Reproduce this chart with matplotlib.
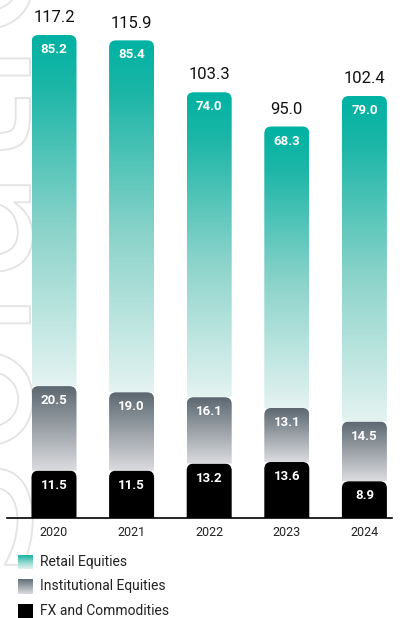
import numpy as np
import matplotlib
matplotlib.use("Agg")
import matplotlib.pyplot as plt
from matplotlib.path import Path
from matplotlib.patches import PathPatch
from matplotlib.colors import LinearSegmentedColormap
from matplotlib.textpath import TextPath
from matplotlib.font_manager import FontProperties
from matplotlib.transforms import Affine2D

plt.rcParams["font.family"] = ["Roboto", "DejaVu Sans"]

years = ["2020", "2021", "2022", "2023", "2024"]
fx_commodities = [11.5, 11.5, 13.2, 13.6, 8.9]
institutional = [20.5, 19.0, 16.1, 13.1, 14.5]
retail = [85.2, 85.4, 74.0, 68.3, 79.0]
totals = [117.2, 115.9, 103.3, 95.0, 102.4]

teal_cmap = LinearSegmentedColormap.from_list(
    "teal", [(0.0, "#e4f3f1"), (0.45, "#8ad3ca"), (0.85, "#1cb6a7"), (1.0, "#00b2a2")])
grey_cmap = LinearSegmentedColormap.from_list(
    "grey", [(0.0, "#dcdcdf"), (0.5, "#9ba2a8"), (1.0, "#5b6770")])

W, H, DPI = 411, 618, 100
fig = plt.figure(figsize=(W / DPI, H / DPI), dpi=DPI)

# faint outlined lettering running up the left edge
wm_ax = fig.add_axes([0, 0, 1, 1], zorder=-1)
wm_ax.axis("off")
wm_ax.set_xlim(0, W)
wm_ax.set_ylim(0, H)
tp = TextPath((0, 0), "Solutions", size=190, prop=FontProperties(family="DejaVu Sans"))
tr = Affine2D().rotate_deg(90).translate(30, 40)
wm_ax.add_patch(PathPatch(tr.transform_path(tp), facecolor="none",
                          edgecolor="#e3e3e3", lw=1.3))

# bar geometry in pixels, converted to axes limits
base_px = 518
step_px = 77.6
first_px = 54
px_per_unit = 4.121
ax = fig.add_axes([0, 1 - base_px / H, 1, base_px / H])
ax.patch.set_alpha(0)
ax.axis("off")

bar_w = 45 / step_px
rx = 7 / step_px
ry = 7 / px_per_unit


def rounded_top(x0, y0, w, h):
    x1, y1 = x0 + w, y0 + h
    verts = [(x0, y0), (x0, y1 - ry), (x0, y1), (x0 + rx, y1),
             (x1 - rx, y1), (x1, y1), (x1, y1 - ry), (x1, y0), (x0, y0)]
    codes = [Path.MOVETO, Path.LINETO, Path.CURVE3, Path.CURVE3,
             Path.LINETO, Path.CURVE3, Path.CURVE3, Path.LINETO, Path.CLOSEPOLY]
    return Path(verts, codes)


grad = np.linspace(0, 1, 256).reshape(-1, 1)

for i in range(len(years)):
    x0 = i - bar_w / 2
    segs = [(0, fx_commodities[i], None),
            (fx_commodities[i], institutional[i], grey_cmap),
            (fx_commodities[i] + institutional[i], retail[i], teal_cmap)]
    for bottom, h, cmap in segs:
        path = rounded_top(x0, bottom, bar_w, h)
        if cmap is None:
            patch = PathPatch(path, facecolor="black", edgecolor="none", zorder=2)
            ax.add_patch(patch)
        else:
            patch = PathPatch(path, facecolor="none", edgecolor="none", zorder=2)
            ax.add_patch(patch)
            im = ax.imshow(grad, cmap=cmap, origin="lower", aspect="auto",
                           extent=[x0, x0 + bar_w, bottom, bottom + h], zorder=2)
            im.set_clip_path(patch)
        ax.annotate(f"{h:.1f}", (i, bottom + h), xytext=(0, -10.5),
                    textcoords="offset points", ha="center", va="center",
                    color="white", fontsize=9.5, fontweight="bold", zorder=3)
    ax.annotate(f"{totals[i]:.1f}", (i, totals[i]), xytext=(0, 12.5),
                textcoords="offset points", ha="center", va="center",
                color="#111111", fontsize=12, zorder=3)
    ax.annotate(years[i], (i, 0), xytext=(0, -10.5), textcoords="offset points",
                ha="center", va="center", color="#222222", fontsize=9,
                annotation_clip=False)

ax.set_xlim(-first_px / step_px, (W - first_px) / step_px)
ax.set_ylim(0, base_px / px_per_unit)
ax.axhline(0, xmin=7 / W, xmax=392 / W, color="black", lw=1.2, zorder=4,
           clip_on=False)

# legend
legend_items = [("Retail Equities", teal_cmap), ("Institutional Equities", grey_cmap),
                ("FX and Commodities", None)]
legend_y = [562, 586, 611]
for (label, cmap), yc in zip(legend_items, legend_y):
    sq = fig.add_axes([18 / W, 1 - (yc + 7.5) / H, 15 / W, 15 / H])
    sq.axis("off")
    if cmap is None:
        sq.imshow([[0]], cmap="gray", vmin=0, vmax=1, aspect="auto")
    else:
        sq.imshow(grad, cmap=cmap, origin="lower", aspect="auto")
    fig.text(40 / W, 1 - yc / H, label, ha="left", va="center",
             fontsize=10, color="#222222")

fig.savefig("out.png", dpi=DPI)
